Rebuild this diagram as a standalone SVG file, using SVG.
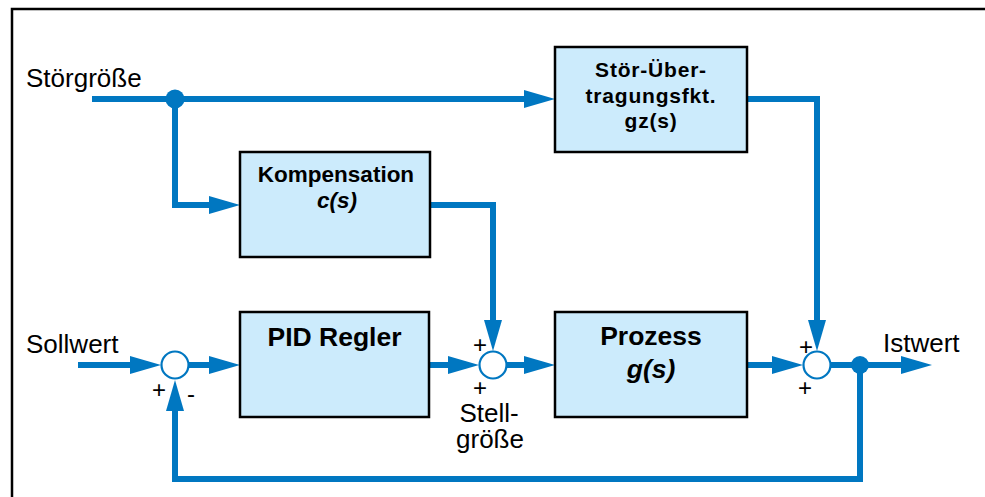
<svg xmlns="http://www.w3.org/2000/svg" xmlns:xlink="http://www.w3.org/1999/xlink" width="985" height="497" viewBox="0 0 985 497">
<style>
text{font-family:"Liberation Sans",Arial,sans-serif;fill:#000}
.lbl{font-size:26px}
.pm{font-size:24px;text-anchor:middle}
.box{fill:#CCEBFC;stroke:#000;stroke-width:2.5}
.bt{font-weight:bold;text-anchor:middle}
.wire{fill:none;stroke:#0077C1;stroke-width:6}
.sum{fill:#fff;stroke:#0077C1;stroke-width:2.2}
.dot{fill:#0077C1}
.ah{fill:#0077C1}
</style>
<defs>
<polygon id="arr" class="ah" points="0,0 -31,-9 -31,9"/>
</defs>
<rect x="12" y="9" width="1000" height="520" fill="#fff" stroke="#000" stroke-width="2.5"/>

<g id="connectors">
<path class="wire" d="M92,99 H527"/>
<use xlink:href="#arr" transform="translate(555,99)"/>
<path class="wire" d="M175,99 V205 H211"/>
<use xlink:href="#arr" transform="translate(240,205)"/>
<path class="wire" d="M430,205 H493 V322"/>
<use xlink:href="#arr" transform="translate(493,351) rotate(90)"/>
<path class="wire" d="M747,99 H817 V322"/>
<use xlink:href="#arr" transform="translate(817,351) rotate(90)"/>
<path class="wire" d="M78,365 H132"/>
<use xlink:href="#arr" transform="translate(161,365)"/>
<path class="wire" d="M189,365 H211"/>
<use xlink:href="#arr" transform="translate(240,365)"/>
<path class="wire" d="M429,365 H451"/>
<use xlink:href="#arr" transform="translate(479,365)"/>
<path class="wire" d="M507,365 H527"/>
<use xlink:href="#arr" transform="translate(555,365)"/>
<path class="wire" d="M747,365 H775"/>
<use xlink:href="#arr" transform="translate(803,365)"/>
<path class="wire" d="M831,365 H904"/>
<use xlink:href="#arr" transform="translate(932,365)"/>
<path class="wire" d="M860,365 V479 H175 V408"/>
<use xlink:href="#arr" transform="translate(175,380) rotate(-90)"/>
<circle class="dot" cx="175" cy="99" r="9.5"/>
<circle class="dot" cx="860" cy="365" r="9"/>
</g>

<g id="stoer">
<rect class="box" x="555" y="47" width="192" height="105"/>
<text class="bt" x="651" y="77" font-size="21" letter-spacing="0.8">Stör-Über-</text>
<text class="bt" x="651" y="103" font-size="21" letter-spacing="0.8">tragungsfkt.</text>
<text class="bt" x="651" y="128" font-size="21" letter-spacing="0.8">gz(s)</text>
</g>

<g id="kompensation">
<rect class="box" x="240" y="152" width="190" height="105"/>
<text class="bt" x="336" y="182" font-size="22.5">Kompensation</text>
<text class="bt" x="337" y="208" font-size="22.5" font-style="italic">c(s)</text>
</g>

<g id="pid">
<rect class="box" x="240" y="312" width="189" height="105"/>
<text class="bt" x="334.5" y="346" font-size="26.5">PID Regler</text>
</g>

<g id="prozess">
<rect class="box" x="555" y="312" width="192" height="105"/>
<text class="bt" x="651" y="345" font-size="26.5">Prozess</text>
<text class="bt" x="651" y="378" font-size="26.5" font-style="italic">g(s)</text>
</g>

<g id="sum1">
<circle class="sum" cx="175" cy="365" r="13.5"/>
<text class="pm" x="159" y="398">+</text>
<text class="pm" x="191" y="402">-</text>
</g>

<g id="sum2">
<circle class="sum" cx="493" cy="365" r="13.5"/>
<text class="pm" x="480" y="353">+</text>
<text class="pm" x="480" y="396" font-size="23">+</text>
</g>

<g id="sum3">
<circle class="sum" cx="817" cy="365" r="13.5"/>
<text class="pm" x="806" y="355">+</text>
<text class="pm" x="805" y="396">+</text>
</g>

<g id="labels">
<text class="lbl" x="26" y="87" font-size="26.5">Störgröße</text>
<text class="lbl" x="26" y="353" font-size="26.5">Sollwert</text>
<text class="lbl" x="883" y="352" font-size="26.5">Istwert</text>
<text class="lbl" x="489" y="422" text-anchor="middle" font-size="25">Stell-</text>
<text class="lbl" x="490" y="448" text-anchor="middle" font-size="25">größe</text>
</g>
</svg>
